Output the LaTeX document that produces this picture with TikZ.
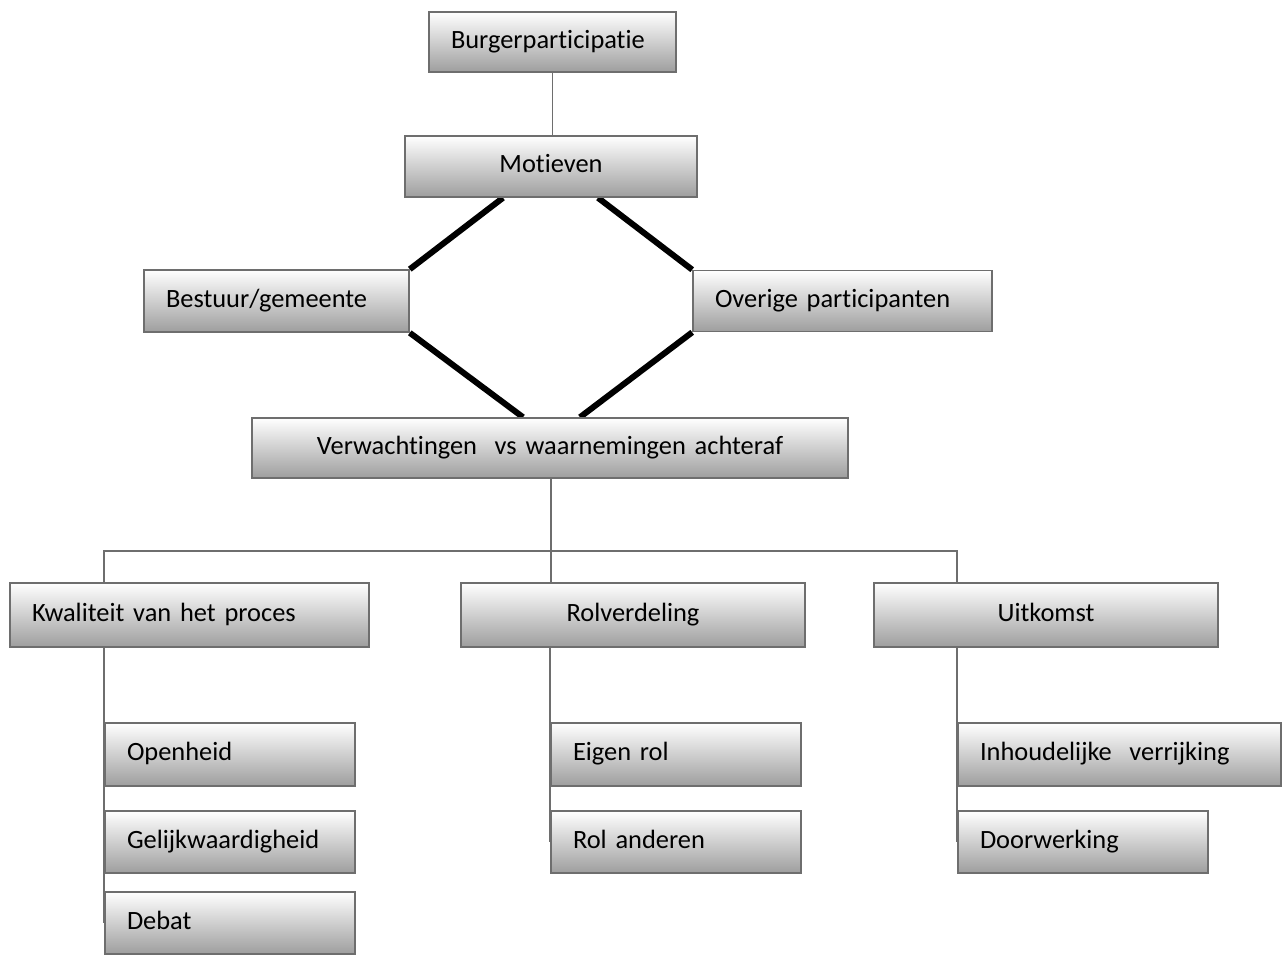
\documentclass[tikz,border=0pt]{standalone}
\usepackage{fontspec}
\setmainfont{Carlito}[Ligatures={NoCommon,NoDiscretionary,NoContextual}]
\usetikzlibrary{backgrounds,calc}
\definecolor{edgegray}{RGB}{110,110,110}
\definecolor{shadegray}{RGB}{158,158,158}
\tikzset{
  boxbase/.style={rectangle, draw=edgegray, line width=1.6pt, top color=white, bottom color=shadegray,
    inner ysep=0pt, inner xsep=22pt, text height=19pt, text depth=7pt,
    font=\fontsize{26.4}{30}\selectfont, text=black},
  lbox/.style 2 args={boxbase, minimum height=#2, text width=#1-44pt, align=left},
  cbox/.style 2 args={boxbase, minimum height=#2, text width=#1-44pt, align=center},
  conn/.style={draw=edgegray, line width=1.8pt},
  thick link/.style={draw=black, line width=6pt}
}
\begin{document}
\begin{tikzpicture}[x=1pt,y=-1pt]
\useasboundingbox (0,0) rectangle (1286,954);
% top
\node[lbox={247pt}{60pt}] (bur) at (552.5,42) {Burgerparticipatie};
\node[cbox={292pt}{61pt}] (mot) at (551,166.5) {Motieven};
\node[lbox={265pt}{62pt}] (bes) at (276.5,301) {Bestuur/gemeente};
\node[lbox={299pt}{61pt}] (ove) at (842.5,301) {Overige participanten};
\node[cbox={596pt}{60pt}] (ver) at (550,448) {Verwachtingen\ \ vs waarnemingen achteraf};
% second level
\node[lbox={359pt}{64pt}] (kwa) at (189.5,615) {Kwaliteit van het proces};
\node[cbox={344pt}{64pt}] (rol) at (633,615) {Rolverdeling};
\node[cbox={344pt}{64pt}] (uit) at (1046,615) {Uitkomst};
% third level
\node[lbox={250pt}{63pt}] (ope) at (230,754.5) {Openheid};
\node[lbox={250pt}{62pt}] (gel) at (230,842) {Gelijkwaardigheid};
\node[lbox={250pt}{62pt}] (deb) at (230,923) {Debat};
\node[lbox={250pt}{63pt}] (eig) at (676,754.5) {Eigen rol};
\node[lbox={250pt}{62pt}] (ran) at (676,842) {Rol anderen};
\node[lbox={323pt}{63pt}] (inh) at (1119.5,754.5) {Inhoudelijke\ \ verrijking};
\node[lbox={250pt}{62pt}] (doo) at (1083,842) {Doorwerking};
% connectors
\begin{scope}[on background layer]
  \draw[conn] (bur.south) -- (bur.south |- mot.north);
  \draw[thick link] ($(mot.south)+(-48,0)$) -- (bes.north east);
  \draw[thick link] ($(mot.south)+(47,0)$) -- (ove.north west);
  \draw[thick link] (bes.south east) -- ($(ver.north)+(-27,0)$);
  \draw[thick link] (ove.south west) -- ($(ver.north)+(30,0)$);
  \coordinate (bus) at ($(ver.south)+(1,72)$);
  \draw[conn] (bus |- ver.south) -- (bus |- rol.north);
  \draw[conn] (ope.west |- kwa.north) -- (ope.west |- bus) -- (inh.west |- bus) -- (inh.west |- uit.north);
  \draw[conn] (ope.west |- kwa.south) -- (deb.west);
  \draw[conn] (eig.west |- rol.south) -- (ran.west);
  \draw[conn] (inh.west |- uit.south) -- (doo.west);
\end{scope}
\end{tikzpicture}
\end{document}
